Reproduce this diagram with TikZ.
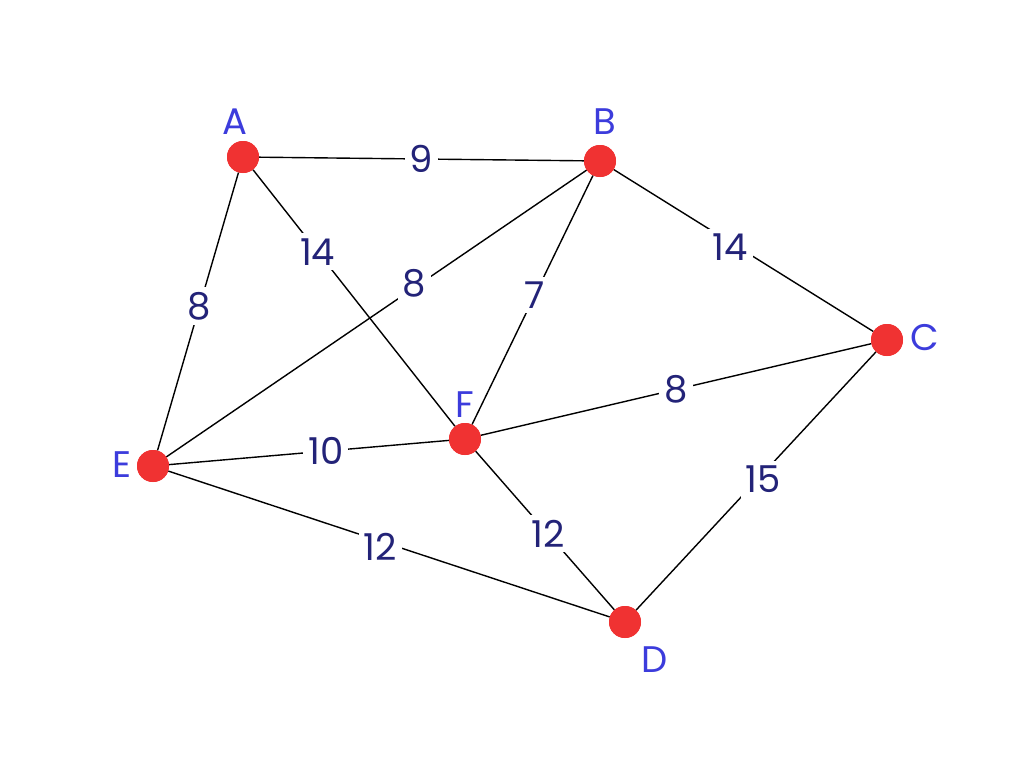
\documentclass[tikz,border=0pt]{standalone}
\usepackage{fontspec}
\setmainfont{Poppins}
\definecolor{vtx}{RGB}{240, 50, 50}
\definecolor{wt}{RGB}{35, 35, 120}
\definecolor{nm}{RGB}{60, 60, 220}
\tikzset{
  vertex/.style={circle, minimum size=32pt, inner sep=0pt, fill=vtx},
  edge/.style={line width=1.4pt, color=black},
  weight/.style={fill=white, inner sep=5pt, text=wt, font=\fontsize{37}{37}\selectfont},
  vname/.style={text=nm, font=\fontsize{37}{37}\selectfont}
}
\begin{document}
\begin{tikzpicture}[x=1pt, y=-1pt]
\useasboundingbox (0,0) rectangle (1024,768);
\node (A) [vertex] at (243,157) {};
\node (B) [vertex] at (600,161) {};
\node (C) [vertex] at (887,340) {};
\node (E) [vertex] at (153,466) {};
\node (F) [vertex] at (465,439) {};
\node (D) [vertex] at (625,622) {};
\node [vname] at (235,122) {A};
\node [vname] at (605,122) {B};
\node [vname] at (925,338) {C};
\node [vname] at (122,465) {E};
\node [vname] at (465,405) {F};
\node [vname] at (655,660) {D};
\draw [edge] (A) to node[weight, pos=0.5] {9} (B);
\draw [edge] (A) to node[weight, pos=0.32] {14} (F);
\draw [edge] (A) to node[weight, pos=0.48] {8} (E);
\draw [edge] (E) to node[weight, pos=0.59, yshift=4pt] {8} (B);
\draw [edge] (F) to node[weight, pos=0.52] {7} (B);
\draw [edge] (B) to node[weight, pos=0.45, yshift=-5pt] {14} (C);
\draw [edge] (F) to node[weight, pos=0.5] {8} (C);
\draw [edge] (E) to node[weight, pos=0.56] {10} (F);
\draw [edge] (C) to node[weight, pos=0.47, yshift=-6pt] {15} (D);
\draw [edge] (F) to node[weight, pos=0.52] {12} (D);
\draw [edge] (E) to node[weight, pos=0.48, yshift=-6pt] {12} (D);
\node [vertex] at (A) {};
\node [vertex] at (B) {};
\node [vertex] at (C) {};
\node [vertex] at (E) {};
\node [vertex] at (F) {};
\node [vertex] at (D) {};
\end{tikzpicture}
\end{document}
